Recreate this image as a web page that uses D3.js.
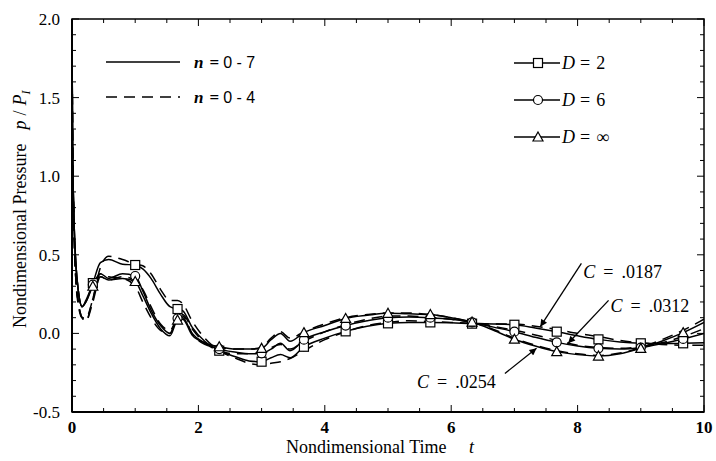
<!DOCTYPE html>
<html>
<head>
<meta charset="utf-8">
<script src="https://cdn.jsdelivr.net/npm/d3@7"></script>
<style>
  body { margin: 0; background: #fff; }
  svg { display: block; font-family: "Liberation Serif", "Times New Roman", serif; }
</style>
</head>
<body>
<svg width="716" height="461"></svg>
<script>
// data
var times = [0, 0.01, 0.03, 0.06, 0.1, 0.16, 0.22, 0.33, 0.45, 0.58, 0.8, 1.0, 1.12, 1.25, 1.4, 1.55, 1.67, 1.75, 1.9, 2.1,
    2.33, 2.6, 2.8, 3.0, 3.15, 3.3, 3.45, 3.67, 4.0, 4.33, 4.67, 5.0, 5.33, 5.67, 6.0, 6.33, 6.67, 7.0, 7.33, 7.67,
    8.0, 8.33, 8.67, 9.0, 9.33, 9.67, 10];

var markerTimes = [0.33, 1.0, 1.67, 2.33, 3.0, 3.67, 4.33, 5.0, 5.67, 6.33, 7.0, 7.67, 8.33, 9.0, 9.67];

// solid lines, n = 0 - 7
var d2Solid = [1.87, 1.2, 0.75, 0.45, 0.27, 0.17, 0.21, 0.32, 0.45, 0.47, 0.44, 0.435, 0.41, 0.35, 0.25, 0.17, 0.155, 0.145, 0.04, -0.05,
    -0.11, -0.15, -0.175, -0.18, -0.155, -0.135, -0.155, -0.085, -0.03, 0.013, 0.045, 0.064, 0.07, 0.07, 0.068, 0.062, 0.06, 0.055, 0.035, 0.011,
    -0.015, -0.038, -0.055, -0.063, -0.065, -0.063, -0.06];
var d6Solid = [1.87, 1.2, 0.75, 0.45, 0.27, 0.17, 0.2, 0.31, 0.38, 0.35, 0.38, 0.365, 0.27, 0.15, 0.05, 0.0, 0.096, 0.1, 0.0, -0.06,
    -0.1, -0.12, -0.13, -0.127, -0.1, -0.063, -0.11, -0.04, 0.01, 0.05, 0.08, 0.1, 0.105, 0.1, 0.09, 0.07, 0.04, 0.011, -0.025, -0.057,
    -0.08, -0.095, -0.1, -0.09, -0.065, -0.035, 0.0];
var dInfSolid = [1.87, 1.2, 0.75, 0.45, 0.27, 0.17, 0.2, 0.3, 0.36, 0.34, 0.35, 0.33, 0.24, 0.13, 0.03, -0.015, 0.085, 0.09, -0.01, -0.06,
    -0.085, -0.1, -0.1, -0.095, -0.04, 0.0, -0.05, 0.005, 0.05, 0.095, 0.115, 0.128, 0.125, 0.12, 0.1, 0.072, 0.02, -0.037, -0.08, -0.116,
    -0.135, -0.144, -0.13, -0.095, -0.05, 0.005, 0.07];

// dashed lines, n = 0 - 4
var d2Dashed = [1.87, 1.2, 0.7, 0.35, 0.18, 0.1, 0.1, 0.22, 0.42, 0.49, 0.47, 0.44, 0.43, 0.38, 0.28, 0.21, 0.21, 0.19, 0.08, -0.03,
    -0.11, -0.16, -0.19, -0.2, -0.19, -0.18, -0.16, -0.11, -0.04, 0.01, 0.05, 0.07, 0.08, 0.075, 0.07, 0.065, 0.06, 0.06, 0.045, 0.025,
    0.0, -0.02, -0.045, -0.06, -0.07, -0.075, -0.075];
var d6Dashed = [1.87, 1.2, 0.7, 0.35, 0.2, 0.1, 0.08, 0.2, 0.36, 0.34, 0.36, 0.34, 0.28, 0.17, 0.06, 0.02, 0.1, 0.12, 0.03, -0.06,
    -0.11, -0.13, -0.13, -0.12, -0.09, -0.07, -0.1, -0.05, 0.01, 0.055, 0.09, 0.11, 0.11, 0.1, 0.09, 0.07, 0.045, 0.02, -0.01, -0.045,
    -0.075, -0.09, -0.095, -0.085, -0.06, -0.02, 0.03];
var dInfDashed = [1.87, 1.2, 0.7, 0.35, 0.2, 0.1, 0.08, 0.22, 0.38, 0.36, 0.35, 0.3, 0.2, 0.1, 0.02, 0.0, 0.1, 0.11, 0.0, -0.07,
    -0.09, -0.1, -0.1, -0.09, -0.03, 0.01, -0.03, 0.01, 0.06, 0.1, 0.12, 0.13, 0.13, 0.12, 0.1, 0.07, 0.025, -0.03, -0.075, -0.11,
    -0.13, -0.14, -0.125, -0.09, -0.04, 0.02, 0.09];

// tick values
var xTickMajor = [0, 2, 4, 6, 8, 10];
var xTickLabels = ['0', '2', '4', '6', '8', '10'];
var yTickMajor = [-0.5, 0, 0.5, 1.0, 1.5, 2.0];
var yTickLabels = ['-0.5', '0.0', '0.5', '1.0', '1.5', '2.0'];

// legend entries
var lineLegend = ['0 - 7', '0 - 4'];
var markerLegend = ['2', '6', '\u221e'];

// callouts: label, text position (t, p), arrow tail and tip (t, p)
var calloutLabels = ['.0187', '.0312', '.0254'];
var calloutText = [[8.09, 0.35], [8.52, 0.135], [5.46, -0.35]];
var calloutTail = [[8.06, 0.445], [8.49, 0.21], [6.85, -0.255]];
var calloutTip = [[7.41, 0.043], [7.85, -0.063], [7.35, -0.095]];

var svg = d3.select('svg');

// plot area edges (pixels)
var plotLeft = 72, plotRight = 704, plotTop = 19, plotBottom = 412;

var x = d3.scaleLinear().domain([0, 10]).range([plotLeft, plotRight]);
var y = d3.scaleLinear().domain([-0.5, 2.0]).range([plotBottom, plotTop]);

function toPoints(vals) {
    return times.map(function(t, i) { return { t: t, p: vals[i] }; });
}

var series = [
    { pts: toPoints(d2Dashed), dashed: true },
    { pts: toPoints(d6Dashed), dashed: true },
    { pts: toPoints(dInfDashed), dashed: true },
    { pts: toPoints(d2Solid), dashed: false, marker: 'square' },
    { pts: toPoints(d6Solid), dashed: false, marker: 'circle' },
    { pts: toPoints(dInfSolid), dashed: false, marker: 'triangle' }
];

var defs = svg.append('defs');
defs.append('clipPath')
    .attr('id', 'plotClip')
    .append('rect')
    .attr('x', plotLeft)
    .attr('y', plotTop)
    .attr('width', plotRight - plotLeft)
    .attr('height', plotBottom - plotTop);

defs.append('marker')
    .attr('id', 'arrowHead')
    .attr('viewBox', '0 0 10 10')
    .attr('refX', 10)
    .attr('refY', 5)
    .attr('markerWidth', 10)
    .attr('markerHeight', 7)
    .attr('markerUnits', 'userSpaceOnUse')
    .attr('orient', 'auto')
    .append('path')
    .attr('d', 'M0,0 L10,5 L0,10 z')
    .attr('fill', 'black');

var line = d3.line()
    .x(function(d) { return x(d.t); })
    .y(function(d) { return y(d.p); })
    .curve(d3.curveMonotoneX);

var plot = svg.append('g').attr('clip-path', 'url(#plotClip)');

series.forEach(function(s) {
    plot.append('path')
        .datum(s.pts)
        .attr('d', line)
        .attr('fill', 'none')
        .attr('stroke', 'black')
        .attr('stroke-width', 1.5)
        .attr('stroke-dasharray', s.dashed ? '11,7' : null);
});

// draws one marker shape centred at cx, cy
function drawMarker(g, type, cx, cy) {
    if (type === 'square') {
        g.append('rect')
            .attr('x', cx - 4.5).attr('y', cy - 4.5)
            .attr('width', 9).attr('height', 9)
            .attr('fill', 'white').attr('stroke', 'black').attr('stroke-width', 1.2);
    } else if (type === 'circle') {
        g.append('circle')
            .attr('cx', cx).attr('cy', cy).attr('r', 4.5)
            .attr('fill', 'white').attr('stroke', 'black').attr('stroke-width', 1.2);
    } else {
        g.append('path')
            .attr('d', 'M' + cx + ',' + (cy - 5) + 'L' + (cx + 5) + ',' + (cy + 4) + 'L' + (cx - 5) + ',' + (cy + 4) + 'Z')
            .attr('fill', 'white').attr('stroke', 'black').attr('stroke-width', 1.2);
    }
}

var markerGroup = svg.append('g');
series.filter(function(s) { return s.marker; }).forEach(function(s) {
    s.pts.filter(function(d) { return markerTimes.indexOf(d.t) >= 0; }).forEach(function(d) {
        drawMarker(markerGroup, s.marker, x(d.t), y(d.p));
    });
});

// frame
svg.append('rect')
    .attr('x', plotLeft).attr('y', plotTop)
    .attr('width', plotRight - plotLeft).attr('height', plotBottom - plotTop)
    .attr('fill', 'none').attr('stroke', 'black').attr('stroke-width', 1.5);
svg.append('line')
    .attr('x1', plotLeft).attr('y1', plotTop).attr('x2', plotLeft).attr('y2', plotBottom)
    .attr('stroke', 'black').attr('stroke-width', 2);
svg.append('line')
    .attr('x1', plotLeft).attr('y1', plotBottom).attr('x2', plotRight).attr('y2', plotBottom)
    .attr('stroke', 'black').attr('stroke-width', 2);

// ticks point inward on all four sides
var xMinor = d3.range(0, 10.01, 0.5);
var yMinor = d3.range(-0.5, 2.001, 0.1);
var tickG = svg.append('g').attr('stroke', 'black').attr('stroke-width', 1);

xMinor.forEach(function(v) {
    var major = Math.abs(v / 2 - Math.round(v / 2)) < 1e-6;
    var len = major ? 7 : 4;
    tickG.append('line').attr('x1', x(v)).attr('x2', x(v)).attr('y1', plotBottom).attr('y2', plotBottom - len);
    tickG.append('line').attr('x1', x(v)).attr('x2', x(v)).attr('y1', plotTop).attr('y2', plotTop + len);
});
yMinor.forEach(function(v) {
    var major = Math.abs(v / 0.5 - Math.round(v / 0.5)) < 1e-6;
    var len = major ? 7 : 4;
    tickG.append('line').attr('x1', plotLeft).attr('x2', plotLeft + len).attr('y1', y(v)).attr('y2', y(v));
    tickG.append('line').attr('x1', plotRight).attr('x2', plotRight - len).attr('y1', y(v)).attr('y2', y(v));
});

// tick labels
svg.append('g').selectAll('text')
    .data(xTickMajor)
    .join('text')
    .attr('x', function(d) { return x(d); })
    .attr('y', plotBottom + 21)
    .attr('text-anchor', 'middle')
    .attr('font-size', 17)
    .attr('font-weight', 'bold')
    .text(function(d, i) { return xTickLabels[i]; });

svg.append('g').selectAll('text')
    .data(yTickMajor)
    .join('text')
    .attr('x', plotLeft - 12)
    .attr('y', function(d) { return y(d); })
    .attr('dy', '0.35em')
    .attr('text-anchor', 'end')
    .attr('font-size', 17)
    .text(function(d, i) { return yTickLabels[i]; });

// axis titles
var xTitle = svg.append('text')
    .attr('x', 286)
    .attr('y', 453)
    .attr('font-size', 18);
xTitle.append('tspan').text('Nondimensional Time');
xTitle.append('tspan').attr('x', 469).attr('font-style', 'italic').text('t');

var yTitle = svg.append('text')
    .attr('transform', 'translate(26,' + 328 + ') rotate(-90)')
    .attr('font-size', 18);
yTitle.append('tspan').text('Nondimensional Pressure');
yTitle.append('tspan').attr('dx', 14).attr('font-style', 'italic').text('p');
yTitle.append('tspan').attr('dx', 5).text('/');
yTitle.append('tspan').attr('dx', 5).attr('font-style', 'italic').text('P');
yTitle.append('tspan').attr('dy', 4).attr('font-size', 12).attr('font-style', 'italic').text('I');

// legend for n
var legendRowsN = [62, 97];
lineLegend.forEach(function(lbl, i) {
    svg.append('line')
        .attr('x1', 106).attr('x2', 180)
        .attr('y1', legendRowsN[i]).attr('y2', legendRowsN[i])
        .attr('stroke', 'black').attr('stroke-width', 1.5)
        .attr('stroke-dasharray', i === 1 ? '11,7' : null);
    var t = svg.append('text')
        .attr('x', 194).attr('y', legendRowsN[i] + 6)
        .attr('font-size', 17);
    t.append('tspan').attr('font-style', 'italic').attr('font-weight', 'bold').text('n');
    t.append('tspan').attr('dx', 6).attr('font-weight', 'bold').text('=');
    t.append('tspan').attr('dx', 4).attr('font-family', '"Liberation Sans", Arial, sans-serif').attr('font-size', 16).text(lbl);
});

// legend for D
var legendRowsD = [63, 100, 137];
var legendShapes = ['square', 'circle', 'triangle'];
markerLegend.forEach(function(lbl, i) {
    svg.append('line')
        .attr('x1', 514).attr('x2', 560)
        .attr('y1', legendRowsD[i]).attr('y2', legendRowsD[i])
        .attr('stroke', 'black').attr('stroke-width', 1.5);
    drawMarker(svg, legendShapes[i], 538, legendRowsD[i]);
    var t = svg.append('text')
        .attr('x', 562).attr('y', legendRowsD[i] + 6)
        .attr('font-size', 18);
    t.append('tspan').attr('font-style', 'italic').text('D');
    t.append('tspan').attr('dx', 5).text('=');
    t.append('tspan').attr('dx', 6).text(lbl);
});

// C callouts with arrows
calloutLabels.forEach(function(lbl, i) {
    svg.append('line')
        .attr('x1', x(calloutTail[i][0])).attr('y1', y(calloutTail[i][1]))
        .attr('x2', x(calloutTip[i][0])).attr('y2', y(calloutTip[i][1]))
        .attr('stroke', 'black').attr('stroke-width', 1.3)
        .attr('marker-end', 'url(#arrowHead)');
    var t = svg.append('text')
        .attr('x', x(calloutText[i][0])).attr('y', y(calloutText[i][1]))
        .attr('font-size', 18);
    t.append('tspan').attr('font-style', 'italic').text('C');
    t.append('tspan').attr('dx', 8).text('=');
    t.append('tspan').attr('dx', 8).text(lbl);
});
</script>
</body>
</html>
